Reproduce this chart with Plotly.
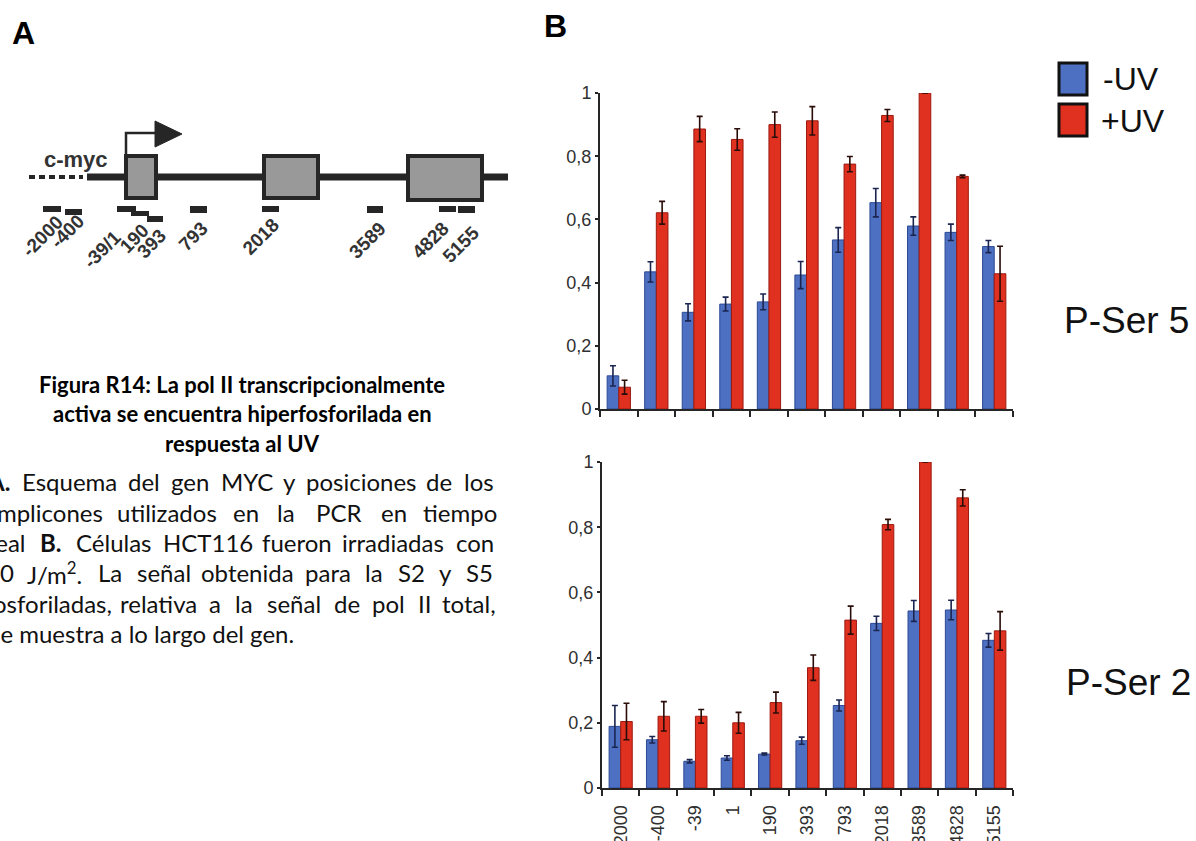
import plotly.graph_objects as go

W, H = 1196, 841

# ---------------- data ----------------
categories = ["-2000", "-400", "-39", "1", "190", "393", "793", "2018", "3589", "4828", "5155"]
ser5_minus = [0.105, 0.434, 0.306, 0.332, 0.339, 0.424, 0.535, 0.653, 0.579, 0.559, 0.514]
ser5_minus_err = [0.032, 0.032, 0.027, 0.022, 0.025, 0.043, 0.039, 0.045, 0.029, 0.026, 0.019]
ser5_plus = [0.069, 0.621, 0.886, 0.853, 0.900, 0.912, 0.775, 0.929, 1.0, 0.736, 0.428]
ser5_plus_err = [0.022, 0.036, 0.040, 0.034, 0.040, 0.045, 0.024, 0.019, 0.0, 0.004, 0.087]
ser2_minus = [0.189, 0.148, 0.082, 0.092, 0.104, 0.145, 0.253, 0.505, 0.543, 0.546, 0.453]
ser2_minus_err = [0.064, 0.010, 0.005, 0.007, 0.003, 0.011, 0.017, 0.022, 0.032, 0.030, 0.021]
ser2_plus = [0.204, 0.220, 0.220, 0.200, 0.262, 0.369, 0.515, 0.808, 1.0, 0.890, 0.482]
ser2_plus_err = [0.056, 0.045, 0.021, 0.032, 0.032, 0.039, 0.043, 0.016, 0.0, 0.025, 0.059]
y_ticks = [0, 0.2, 0.4, 0.6, 0.8, 1]
amplicon_labels = ["-2000", "-400", "-39/1", "190", "393", "793", "2018", "3589", "4828", "5155"]
series_names = ["-UV", "+UV"]

# ---------------- styles ----------------
BLUE, BLUE_LINE = "#4e70c2", "#2c4a94"
RED, RED_LINE = "#e0301f", "#9c1a10"
DARK = "#262626"
AX_FONT = "Liberation Sans, Arial, sans-serif"
CAP_FONT = "Lato, Carlito, Calibri, sans-serif"


def X(px):
    return px / W


def Y(py):
    return 1 - py / H


fig = go.Figure()


def add_bars(vals_m, err_m, vals_p, err_p, xa, ya):
    for vals, err, col, lcol, nm, ecol in [
        (vals_m, err_m, BLUE, BLUE_LINE, series_names[0], "#1b2550"),
        (vals_p, err_p, RED, RED_LINE, series_names[1], "#2a0c08"),
    ]:
        fig.add_trace(go.Bar(
            x=categories, y=vals, name=nm, xaxis=xa, yaxis=ya,
            marker=dict(color=col, line=dict(color=lcol, width=1)),
            error_y=dict(type="data", array=err, symmetric=True,
                         color=ecol, thickness=1.6, width=3),
            showlegend=False,
        ))


add_bars(ser5_minus, ser5_minus_err, ser5_plus, ser5_plus_err, "x", "y")
add_bars(ser2_minus, ser2_minus_err, ser2_plus, ser2_plus_err, "x2", "y2")

axis_common = dict(showline=True, linecolor=DARK, linewidth=2, showgrid=False,
                   zeroline=False, mirror=False, automargin=False)
xcommon = dict(axis_common, type="category", range=[-0.5, 10.5], ticks="outside",
               tickson="boundaries", ticklen=6, tickwidth=2, tickcolor=DARK)
ycommon = dict(axis_common, range=[0, 1], tickvals=y_ticks, ticks="outside",
               ticklen=3, tickwidth=1.5, tickcolor=DARK,
               tickfont=dict(family=AX_FONT, size=18, color="#303030"))

fig.update_layout(
    width=W, height=H, margin=dict(l=0, r=0, t=0, b=0, autoexpand=False),
    paper_bgcolor="white", plot_bgcolor="white",
    separators=",.",
    barmode="group", bargap=0.38, bargroupgap=0,
    xaxis=dict(xcommon, domain=[X(600), X(1013)], anchor="y", showticklabels=False),
    yaxis=dict(ycommon, domain=[Y(409), Y(93)], anchor="x"),
    xaxis2=dict(xcommon, domain=[X(602), X(1013)], anchor="y2", showticklabels=True,
                tickangle=-90, ticklabelstandoff=8,
                tickfont=dict(family=AX_FONT, size=18, color="#303030")),
    yaxis2=dict(ycommon, domain=[Y(788), Y(462)], anchor="x2"),
)

shapes = []
annotations = []


def rect(x0, y0, x1, y1, fill, line_col=None, lw=0):
    shapes.append(dict(type="rect", xref="paper", yref="paper",
                       x0=X(x0), x1=X(x1), y0=Y(y1), y1=Y(y0),
                       fillcolor=fill, line=dict(color=line_col or fill, width=lw), layer="above"))


def text(s, x, y, size, family=AX_FONT, color="black", xanchor="center", angle=0, bold=False):
    annotations.append(dict(text=f"<b>{s}</b>" if bold else s, x=X(x), y=Y(y),
                            xref="paper", yref="paper", showarrow=False,
                            xanchor=xanchor, yanchor="middle", textangle=angle,
                            font=dict(family=family, size=size, color=color)))


# ---------------- legend & panel labels ----------------
rect(1059, 63, 1087, 95, BLUE, "#111111", 3)
rect(1059, 104, 1087, 136, RED, "#111111", 3)
text(series_names[0], 1101, 79, 32, xanchor="left", color="#111111")
text(series_names[1], 1099, 121, 32, xanchor="left", color="#111111")
text("P-Ser 5", 1062, 321, 37, xanchor="left", color="#111111")
text("P-Ser 2", 1064, 682, 37, xanchor="left", color="#111111")
text("A", 23, 33, 32, bold=True)
text("B", 555, 26, 32, bold=True)

# ---------------- gene schematic ----------------
shapes.append(dict(type="line", xref="paper", yref="paper", x0=X(29), x1=X(83), y0=Y(177), y1=Y(177),
                   line=dict(color=DARK, width=4, dash="6px,4px"), layer="above"))
shapes.append(dict(type="line", xref="paper", yref="paper", x0=X(87), x1=X(508), y0=Y(177), y1=Y(177),
                   line=dict(color=DARK, width=7), layer="above"))
for (x0, x1, y0, y1) in [(126, 156, 156, 198), (264, 318, 156, 198), (408, 482, 156, 200)]:
    rect(x0, y0, x1, y1, "#999999", DARK, 4)
shapes.append(dict(type="path", xref="paper", yref="paper",
                   path=f"M{X(126)},{Y(154)} L{X(126)},{Y(133)} L{X(157)},{Y(133)}",
                   line=dict(color=DARK, width=2.5), layer="above"))
shapes.append(dict(type="path", xref="paper", yref="paper",
                   path=f"M{X(155)},{Y(121)} L{X(182)},{Y(134)} L{X(155)},{Y(147)} Z",
                   fillcolor=DARK, line=dict(color=DARK, width=1), layer="above"))
for (x0, x1, y0, y1) in [(43, 61, 206, 212), (65, 82, 209, 215), (117, 136, 206, 212),
                         (131, 149, 211, 216), (147, 163, 216, 222), (190, 207, 206, 213),
                         (262, 279, 206, 212), (367, 383, 206, 213), (439, 456, 206, 212),
                         (458, 475, 206, 213)]:
    rect(x0, y0, x1, y1, DARK)
text("c-myc", 76, 159, 22, color="#333333", bold=True)
label_pos = [(42, 236), (67, 231), (102, 249), (134, 238), (152, 244), (193, 236),
             (261, 237), (367, 240), (430, 240), (461, 245)]
for lab, (lx, ly) in zip(amplicon_labels, label_pos):
    text(lab, lx, ly, 19, color="#333333", angle=-45, bold=True)

# ---------------- caption ----------------
for i, line in enumerate(["Figura R14: La pol II transcripcionalmente",
                          "activa se encuentra hiperfosforilada en",
                          "respuesta al UV"]):
    text(line, 242, 384 + 29.5 * i, 22, family=CAP_FONT, bold=True)

# simple justification using Arial-like relative widths
WID = {' ': 278, 'a': 556, 'b': 556, 'c': 500, 'd': 556, 'e': 556, 'f': 278, 'g': 556, 'h': 556,
       'i': 222, 'j': 222, 'k': 500, 'l': 222, 'm': 833, 'n': 556, 'o': 556, 'p': 556, 'q': 556,
       'r': 333, 's': 500, 't': 278, 'u': 556, 'v': 500, 'w': 722, 'x': 500, 'y': 500, 'z': 500,
       'ñ': 556, 'é': 556, 'A': 667, 'B': 667, 'C': 722, 'E': 667, 'H': 722, 'I': 278, 'J': 500,
       'L': 556, 'M': 833, 'P': 667, 'R': 722, 'S': 667, 'T': 611, 'Y': 667, '.': 278, ',': 278,
       '/': 278, ':': 278, '2': 556, '0': 556, '1': 556, '6': 556, '5': 556}


def measure(w, size):
    plain = w.replace("<b>", "").replace("</b>", "").replace("<sup>", "").replace("</sup>", "")
    return sum(WID.get(c, 556) for c in plain) / 1000 * size * 0.93


CAP_SIZE = 24
LEFT, RIGHT = -12, 493
para = [
    ["<b>A.</b>", "Esquema", "del", "gen", "MYC", "y", "posiciones", "de", "los"],
    ["amplicones", "utilizados", "en", "la", "PCR", "en", "tiempo"],
    ["real", "<b>B.</b>", "Células", "HCT116", "fueron", "irradiadas", "con"],
    ["20", "J/m<sup>2</sup>.", "La", "señal", "obtenida", "para", "la", "S2", "y", "S5"],
    ["fosforiladas,", "relativa", "a", "la", "señal", "de", "pol", "II", "total,"],
]
for li, words in enumerate(para):
    yy = 482 + 30.3 * li
    ws = [measure(w, CAP_SIZE) for w in words]
    gap = (RIGHT - LEFT - sum(ws)) / (len(words) - 1)
    xx = LEFT
    for w, wd in zip(words, ws):
        text(w, xx + wd / 2, yy, CAP_SIZE, family=CAP_FONT, color="#111111")
        xx += wd + gap
text("se muestra a lo largo del gen.", LEFT, 482 + 30.3 * 5, CAP_SIZE, family=CAP_FONT,
     color="#111111", xanchor="left")

fig.update_layout(shapes=shapes, annotations=annotations)

fig.write_html("out.html", post_script="document.body.style.margin='0';",
               config={"displayModeBar": False})
